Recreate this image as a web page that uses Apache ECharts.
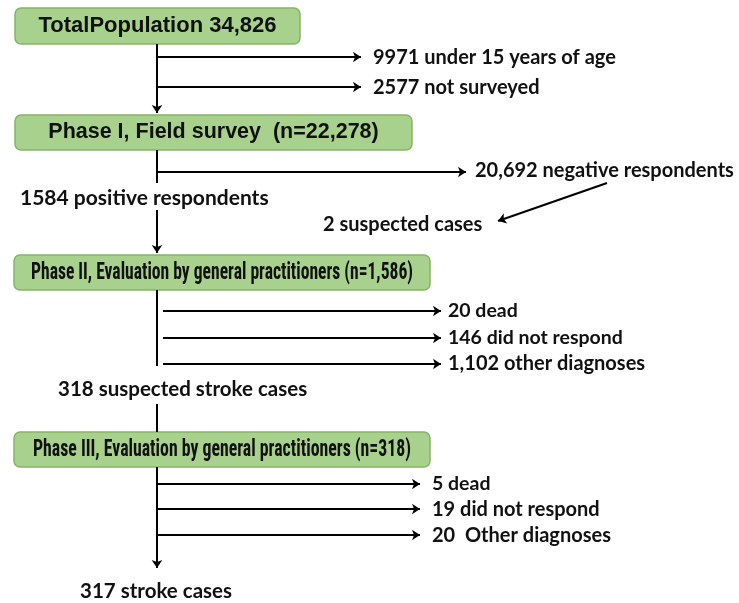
<!DOCTYPE html>
<html><head><meta charset="utf-8">
<script src="https://cdn.jsdelivr.net/npm/echarts@6/dist/echarts.min.js"></script>
<style>html,body{margin:0;padding:0;background:#fff}#c{width:739px;height:603px}</style>
</head><body><div id="c"></div>
<script>
// ---- content (data) ----
const boxLabels = [
  'TotalPopulation 34,826',
  'Phase I, Field survey  (n=22,278)',
  'Phase II, Evaluation by general practitioners (n=1,586)',
  'Phase III, Evaluation by general practitioners (n=318)'
];
const exclusionLabels = [
  '9971 under 15 years of age',
  '2577 not surveyed',
  '20,692 negative respondents',
  '20 dead',
  '146 did not respond',
  '1,102 other diagnoses',
  '5 dead',
  '19 did not respond',
  '20  Other diagnoses'
];
const flowLabels = [
  '1584 positive respondents',
  '2 suspected cases',
  '318 suspected stroke cases',
  '317 stroke cases'
];

// ---- layout (positions in chart units; kept separate from data) ----
const boxRects = [[15,8,300,44],[15,115,412,150],[14,255,430,290],[14,432,430,467]];
const narrowFont = 'bold 23px "Liberation Sans Narrow", "Arial Narrow", "Roboto Condensed", "DejaVu Sans Condensed", sans-serif';
const boxFonts = ['bold 22px "Liberation Sans", Arial, sans-serif', 'bold 21.5px "Liberation Sans", Arial, sans-serif', narrowFont, narrowFont];
const boxTextWidth = [0, 0, 382, 378]; // 0 = natural width
const exclPos = [[373,58,20],[373,88,20],[475,171,20],[448,311,19.5],[448,338,19.5],[448,364,20],[432,484,19.5],[432,510,20],[432,536,20]];
const flowPos = [[20,198,21],[323,225,20],[58,389,20.5],[80,591,20.5]];
const arrowSegs = [
  [[157,44],[157,113]],[[157,57],[361,57]],[[157,87],[361,87]],
  [[157,172],[466,172]],[[607,183],[498,221]],[[157,210],[157,253]],
  [[163,311],[441,311]],[[163,338],[441,338]],[[163,364],[441,364]],
  [[157,484],[420,484]],[[157,509],[420,509]],[[157,535],[420,535]],
  [[157,467],[157,568]]
];
const plainSegs = [[[157,150],[157,183]],[[157,290],[157,366]],[[157,404],[157,432]]];
const labelFamily = 'Lato, "Open Sans", sans-serif';

const measureCtx = document.createElement('canvas').getContext('2d');
function fitScale(text, font, target) {
  if (!target) return 1;
  measureCtx.font = font;
  return target / measureCtx.measureText(text).width;
}

const chart = echarts.init(document.getElementById('c'), null, {renderer: 'canvas'});
chart.setOption({
  animation: false,
  grid: {left: 0, right: 0, top: 0, bottom: 0},
  xAxis: {type: 'value', min: 0, max: 739, show: false},
  yAxis: {type: 'value', min: 0, max: 603, inverse: true, show: false},
  series: [
    {
      type: 'custom', coordinateSystem: 'cartesian2d',
      data: boxRects.map((r, i) => [r[0], r[1], r[2], r[3], i]),
      renderItem: function (params, api) {
        const p0 = api.coord([api.value(0), api.value(1)]);
        const p1 = api.coord([api.value(2), api.value(3)]);
        const i = api.value(4);
        return {
          type: 'group',
          children: [
            {type: 'rect', shape: {x: p0[0], y: p0[1], width: p1[0]-p0[0], height: p1[1]-p0[1], r: 6},
             style: {fill: '#a9d18e', stroke: '#86b466', lineWidth: 1.5}},
            {type: 'text', x: (p0[0]+p1[0])/2, y: (p0[1]+p1[1])/2 + (boxTextWidth[i] ? 1 : 0),
             scaleX: fitScale(boxLabels[i], boxFonts[i], boxTextWidth[i]),
             style: {text: boxLabels[i], font: boxFonts[i], fill: '#111', align: 'center', verticalAlign: 'middle'}}
          ]
        };
      }
    },
    {
      type: 'lines', coordinateSystem: 'cartesian2d', polyline: false,
      symbol: ['none', 'arrow'], symbolSize: 8,
      lineStyle: {color: '#000', width: 2, opacity: 1},
      data: arrowSegs.map(s => ({coords: s}))
    },
    {
      type: 'lines', coordinateSystem: 'cartesian2d',
      symbol: ['none', 'none'],
      lineStyle: {color: '#000', width: 2, opacity: 1},
      data: plainSegs.map(s => ({coords: s}))
    },
    {
      type: 'custom', coordinateSystem: 'cartesian2d',
      data: exclPos.map((p, i) => [p[0], p[1], i, 0]).concat(flowPos.map((p, i) => [p[0], p[1], i, 1])),
      renderItem: function (params, api) {
        const pt = api.coord([api.value(0), api.value(1)]);
        const i = api.value(2), kind = api.value(3);
        const text = kind === 0 ? exclusionLabels[i] : flowLabels[i];
        const size = kind === 0 ? exclPos[i][2] : flowPos[i][2];
        return {type: 'text', x: pt[0], y: pt[1],
          style: {text: text, font: 'bold ' + size + 'px ' + labelFamily, fill: '#111', align: 'left', verticalAlign: 'middle'}};
      }
    }
  ]
});
</script>
</body></html>
